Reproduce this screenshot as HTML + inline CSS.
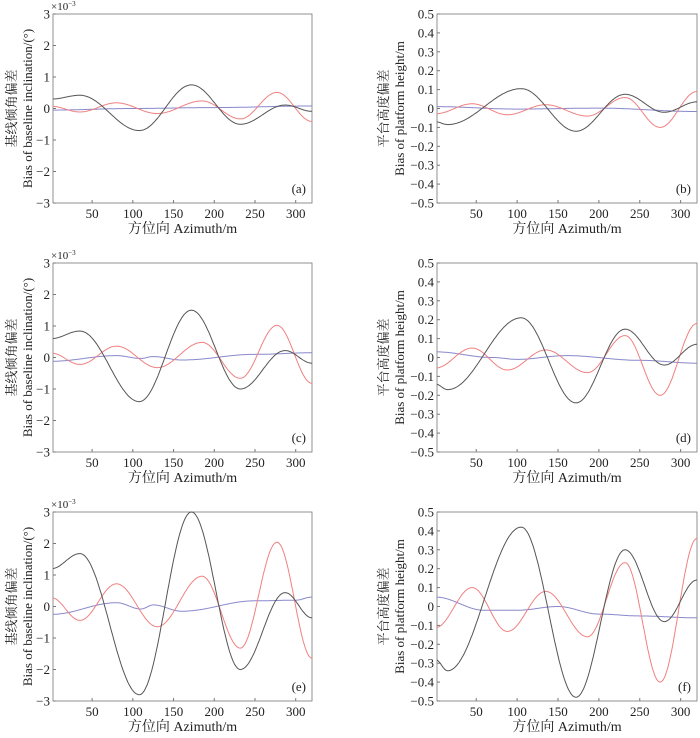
<!DOCTYPE html>
<html><head><meta charset="utf-8"><style>
body{margin:0;background:#fff;width:700px;height:733px;overflow:hidden}
svg text{font-family:"Liberation Serif","Noto Serif CJK SC",serif;fill:#222}
</style></head><body>
<svg id="s" width="700" height="733" xmlns="http://www.w3.org/2000/svg"></svg>
<script>
const S=document.getElementById('s');let h='';
function interp(pts,x){
 for(let i=0;i<pts.length-1;i++){const [x0,y0]=pts[i],[x1,y1]=pts[i+1];
  if(x>=x0&&x<=x1){const t=(x-x0)/(x1-x0);return y0+(y1-y0)*(1-Math.cos(Math.PI*t))/2;}}
 return pts[pts.length-1][1];}
function panel(bx,by,bw,bhh,ymin,ymax,yt,ylab,lab,series,cn,en,exp,lx){
 const X=v=>bx+(v-2)/(320-2)*bw, Y=v=>by+(ymax-v)/(ymax-ymin)*bhh;
 h+=`<rect x="${bx}" y="${by}" width="${bw}" height="${bhh}" fill="none" stroke="#777" stroke-width="0.8"/>`;
 for(let v=50;v<=300;v+=50){h+=`<line x1="${X(v)}" y1="${by+bhh}" x2="${X(v)}" y2="${by+bhh-3}" stroke="#777"/>`;
  h+=`<text x="${X(v)}" y="${by+bhh+15}" font-size="13" text-anchor="middle">${v}</text>`;}
 yt.forEach((v,i)=>{h+=`<line x1="${bx}" y1="${Y(v)}" x2="${bx+3}" y2="${Y(v)}" stroke="#777"/>`;
  h+=`<text x="${bx-3}" y="${Y(v)+4.5}" font-size="13" text-anchor="end">${ylab[i]}</text>`;});
 if(exp)h+=`<text x="${bx-2}" y="${by-4}" font-size="11">×10<tspan font-size="7" dy="-4">−3</tspan></text>`;
 h+=`<text x="${bx+bw-6}" y="${by+bhh-10}" font-size="13" text-anchor="end">${lab}</text>`;
 h+=`<text x="${bx+bw/2}" y="${by+bhh+30}" font-size="14" text-anchor="middle">方位向 Azimuth/m</text>`;
 const cx=lx, cy=by+bhh/2;
 h+=`<text transform="translate(${cx},${cy}) rotate(-90)" font-size="13" text-anchor="middle"><tspan x="0" y="0">${cn}</tspan><tspan x="0" y="16">${en}</tspan></text>`;
 series.forEach(([pts,col])=>{let d='';for(let x=2;x<=320;x+=1){d+=(x==2?'M':'L')+X(x).toFixed(1)+','+Y(interp(pts,x)).toFixed(1);}
  h+=`<path d="${d}" fill="none" stroke="${col}" stroke-width="1"/>`;});
}
const K='#555',R='#f08080',B='#8888cc';
function left(by,s,lab,bl){
 const bk=[[0,.3*s],[35,.42*s],[108,-.7*s],[172,.75*s],[232,-.5*s],[287,.11*s],[320,-.09*s]];
 const rd=[[0,.07*s],[35,-.11*s],[80,.18*s],[130,-.16*s],[185,.24*s],[232,-.33*s],[277,.51*s],[320,-.41*s]];
 panel(53,by,259,189,-3,3,[3,2,1,0,-1,-2,-3],['3','2','1','0','−1','−2','−3'],lab,[[bl,B],[rd,R],[bk,K]],'基线倾角偏差','Bias of baseline inclination/(°)',true,16);
}
function right(by,s,lab,bl){
 const bk=[[0,-.07*s],[15,-.085*s],[105,.105*s],[172,-.12*s],[232,.075*s],[280,-.02*s],[320,.035*s]];
 const rd=[[0,-.028*s],[45,.025*s],[88,-.033*s],[135,.02*s],[186,-.04*s],[232,.058*s],[275,-.1*s],[320,.09*s]];
 const t=[],l=[];for(let i=5;i>=-5;i--){t.push(i/10);l.push(i==0?'0':(i<0?'−':'')+'0.'+Math.abs(i));}
 panel(437,by,260,189,-.5,.5,t,l,lab,[[bl,B],[rd,R],[bk,K]],'平台高度偏差','Bias of platform height/m',false,388);
}
left(14,1,'(a)',[[0,-.05],[100,0],[200,.03],[320,.08]]);
left(263,2,'(c)',[[0,-.12],[80,.06],[110,-.03],[125,.03],[160,-.08],[250,.1],[320,.15]]);
left(512,4,'(e)',[[0,-.25],[80,.12],[110,-.08],[125,.05],[160,-.15],[250,.18],[300,.2],[320,.3]]);
right(14,1,'(b)',[[0,.01],[100,-.003],[200,.002],[320,-.016]]);
right(263,2,'(d)',[[0,.03],[70,0],[100,-.01],[160,.01],[250,-.015],[320,-.03]]);
right(512,4,'(f)',[[0,.05],[60,-.02],[100,-.02],[150,.0],[200,-.04],[250,-.05],[320,-.06]]);
S.innerHTML=h;
</script>
</body></html>
